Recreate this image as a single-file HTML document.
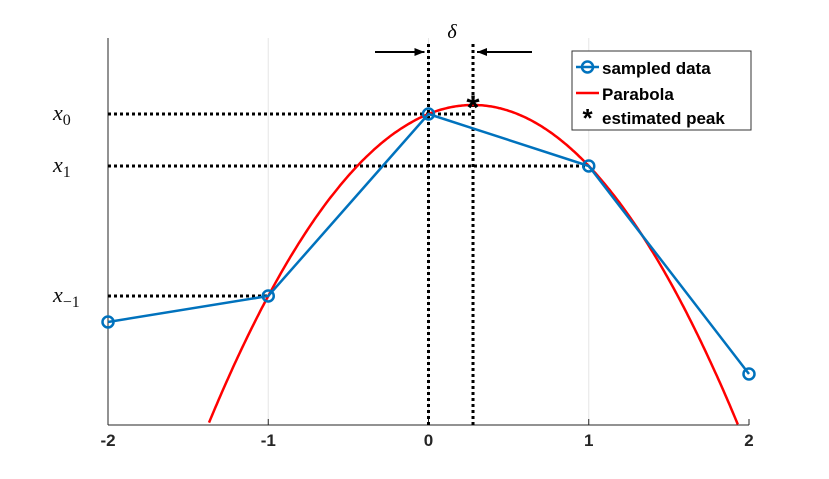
<!DOCTYPE html>
<html><head><meta charset="utf-8"><style>
body{margin:0;background:#fff;}
svg{display:block;font-family:"Liberation Sans",sans-serif;}
</style></head><body>
<svg id="chart" width="829" height="479" viewBox="0 0 829 479" xmlns="http://www.w3.org/2000/svg">
<g id="grid"></g>
<g id="axes"></g>
<g id="guides"></g>
<g id="series"></g>
<g id="legend">
  <rect x="572" y="51" width="179" height="79" fill="#fff" stroke="#333" stroke-width="1"/>
  <g>
    <line x1="576" y1="67" x2="599" y2="67" stroke="#0072BD" stroke-width="2.5"/>
    <circle cx="587.5" cy="67" r="5.5" fill="none" stroke="#0072BD" stroke-width="2.5"/>
    <text x="602" y="74" font-size="17" font-weight="bold">sampled data</text>
  </g>
  <g>
    <line x1="576" y1="93" x2="599" y2="93" stroke="#FF0000" stroke-width="2.5"/>
    <text x="602" y="100" font-size="17" font-weight="bold">Parabola</text>
  </g>
  <g>
    <text x="587.5" y="127" font-size="26" font-weight="bold" text-anchor="middle">*</text>
    <text x="602" y="124" font-size="17" font-weight="bold">estimated peak</text>
  </g>
</g>
</svg>
<script>
const xTicks = [-2, -1, 0, 1, 2];
const xTickLabels = ["-2", "-1", "0", "1", "2"];
const sampleX = [-2, -1, 0, 1, 2];
const sampleY = [1.03, 1.29, 3.11, 2.59, 0.51];
const yLabels = ["x0", "x1", "x-1"];

const NS = "http://www.w3.org/2000/svg";
const X0 = 108, X1 = 749, YB = 425, YT = 38;
function sx(v){ return X0 + (v + 2) / 4 * (X1 - X0); }
function sy(v){ return YB - v * 100; }
function mk(parent, tag, attrs){
  const e = document.createElementNS(NS, tag);
  for (const k in attrs) e.setAttribute(k, attrs[k]);
  document.getElementById(parent).appendChild(e);
  return e;
}
// grid
xTicks.forEach(t => {
  if (t === -2 || t === 2) return;
  const g = mk("grid", "line", {x1: sx(t), x2: sx(t), y1: YT, y2: YB, stroke: "#e6e6e6", "stroke-width": 1});
  
  
});
// axes
const ya = mk("axes", "line", {x1: X0, x2: X0, y1: YT, y2: YB, stroke: "#262626", "stroke-width": 1});


const xa = mk("axes", "line", {x1: X0, x2: X1, y1: YB, y2: YB, stroke: "#262626", "stroke-width": 1});


xTicks.forEach((t, i) => {
  const tk = mk("axes", "line", {x1: sx(t), x2: sx(t), y1: YB, y2: YB - 6, stroke: "#262626"});
  
  
  const tl = mk("axes", "text", {x: sx(t), y: YB + 21, "font-size": 17, "font-weight": "bold", "text-anchor": "middle", fill: "#262626"});
  tl.textContent = xTickLabels[i];
  
  
});
// parabola fit through points at -1,0,1
const ym = sampleY[1], y0 = sampleY[2], yp = sampleY[3];
const a = (ym + yp) / 2 - y0, b = (yp - ym) / 2, c = y0;
const delta = -b / (2 * a);
const peak = c - b * b / (4 * a);
function par(x){ return a * x * x + b * x + c; }
// guides
const dot = {stroke: "#000", "stroke-width": 3, "stroke-dasharray": "3 3", fill: "none"};
function guide(attrs, name){
  const e = mk("guides", "line", Object.assign({}, dot, attrs));
  
  
}
guide({x1: X0, x2: sx(0.28), y1: sy(y0), y2: sy(y0)}, 'x0-guide');
guide({x1: X0, x2: sx(1), y1: sy(yp), y2: sy(yp)}, 'x1-guide');
guide({x1: X0, x2: sx(-1), y1: sy(ym), y2: sy(ym)}, 'x-1-guide');
guide({x1: sx(0), x2: sx(0), y1: 44, y2: YB}, 'zero-guide');
guide({x1: sx(delta), x2: sx(delta), y1: 44, y2: YB}, 'delta-guide');
// arrows
function arrow(x1, x2, name){
  const g = document.createElementNS(NS, "g");
  
  
  document.getElementById("guides").appendChild(g);
  const l = document.createElementNS(NS, "line");
  l.setAttribute("x1", x1); l.setAttribute("x2", x2); l.setAttribute("y1", 52); l.setAttribute("y2", 52);
  l.setAttribute("stroke", "#000"); l.setAttribute("stroke-width", 2);
  g.appendChild(l);
  const d = x2 > x1 ? -1 : 1;
  const p = document.createElementNS(NS, "polygon");
  p.setAttribute("points", `${x2},52 ${x2 + d*10},48 ${x2 + d*10},56`);
  g.appendChild(p);
}
arrow(375, sx(0) - 4, 'left-arrow');
arrow(532, sx(delta) + 4, 'right-arrow');
const dl = mk("guides", "text", {x: 452, y: 38, "font-size": 20, "font-style": "italic", "font-family": "Liberation Serif, serif", "text-anchor": "middle"});
dl.textContent = "δ";


// y labels
[[y0, "0"], [yp, "1"], [ym, "−1"]].forEach((p, i) => {
  const t = mk("guides", "text", {x: 53, y: sy(p[0]) + 6, "font-size": 22, "font-style": "italic", "font-family": "Liberation Serif, serif", fill: "#111"});
  t.innerHTML = 'x<tspan font-style="normal" font-size="16" dy="5">' + p[1] + '</tspan>';
  
  
});
// parabola curve
let pts = [];
for (let x = -2; x <= 2.0001; x += 0.01) {
  const v = par(x);
  if (sy(v) <= YB + 1) pts.push(sx(x).toFixed(1) + "," + sy(v).toFixed(1));
}
const pl = mk("series", "polyline", {points: pts.join(" "), fill: "none", stroke: "#FF0000", "stroke-width": 2.5});


// sampled data
const sl = mk("series", "polyline", {points: sampleX.map((x, i) => sx(x) + "," + sy(sampleY[i])).join(" "), fill: "none", stroke: "#0072BD", "stroke-width": 2.5});


sampleX.forEach((x, i) => {
  const c = mk("series", "circle", {cx: sx(x), cy: sy(sampleY[i]), r: 5.5, fill: "none", stroke: "#0072BD", "stroke-width": 2.5});
  
  
});
// peak marker
const pk = mk("series", "text", {x: sx(delta), y: sy(peak) + 14, "font-size": 34, "font-weight": "bold", "text-anchor": "middle"});
pk.textContent = "*";


</script>
</body></html>
